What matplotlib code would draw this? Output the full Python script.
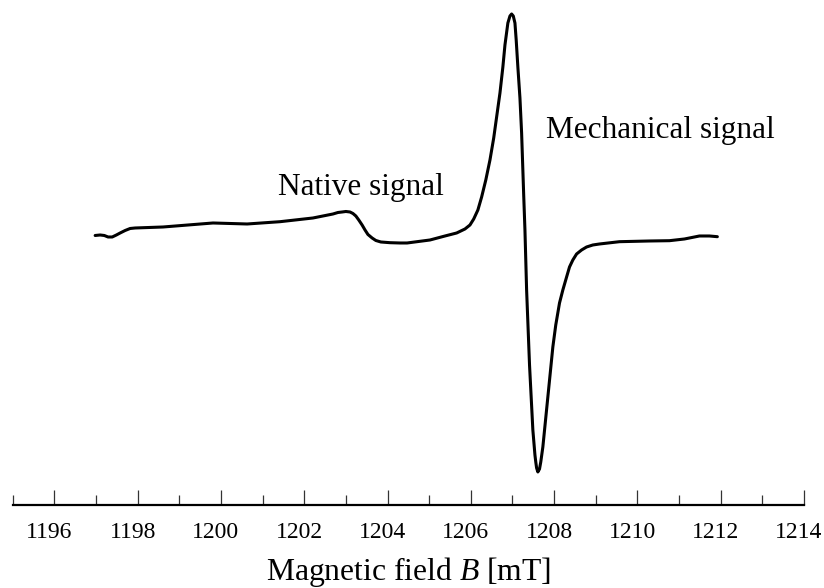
import matplotlib
matplotlib.use('Agg')
import matplotlib.pyplot as plt
import matplotlib.transforms as mtransforms
from matplotlib.ticker import MultipleLocator

# Magnetic field (mT) and signal (arbitrary units)
field = [1196.98, 1197.10, 1197.20, 1197.29, 1197.39, 1197.49, 1197.58, 1197.70,
         1197.82, 1197.94, 1198.61, 1199.81, 1200.63, 1201.42, 1202.21, 1202.69,
         1202.81, 1202.91, 1203.00, 1203.10, 1203.17, 1203.24, 1203.31, 1203.39,
         1203.46, 1203.53, 1203.63, 1203.72, 1203.84, 1204.06, 1204.30, 1204.47,
         1205.02, 1205.38, 1205.66, 1205.86, 1205.98, 1206.07, 1206.17, 1206.26,
         1206.36, 1206.46, 1206.55, 1206.62, 1206.70, 1206.77, 1206.82, 1206.89,
         1206.94, 1206.98, 1207.02, 1207.06, 1207.09, 1207.13, 1207.18, 1207.22,
         1207.27, 1207.30, 1207.34, 1207.41, 1207.49, 1207.54, 1207.56, 1207.58,
         1207.61, 1207.65, 1207.68, 1207.73, 1207.79, 1207.85, 1207.91, 1207.97,
         1208.04, 1208.13, 1208.21, 1208.30, 1208.37, 1208.45, 1208.54, 1208.66,
         1208.78, 1208.93, 1209.09, 1209.57, 1210.29, 1210.77, 1211.13, 1211.49,
         1211.73, 1211.92]
signal = [1.5, 2, 1.5, 0, 0, 2, 4, 6.5,
          8.5, 9, 10, 14, 13, 15.3, 19, 23,
          24.5, 25, 25.5, 25, 23.5, 21, 17, 12,
          7, 2.5, -1, -3.5, -5, -5.7, -6, -6,
          -3, 1, 4, 8, 12, 18, 27, 40,
          57, 77, 99, 120, 144, 170, 192, 214,
          221, 223, 221, 214, 197, 170, 139, 104,
          42, 7, -53, -128, -193, -218, -225, -231,
          -235, -232, -225, -210, -185, -160, -135, -110,
          -88, -66, -53, -40, -30, -23, -17, -13,
          -10, -8, -7, -4.7, -4, -3.7, -2, 1,
          1, 0.3]

tick_labels = ['1196', '1198', '1200', '1202', '1204', '1206', '1208', '1210', '1212', '1214']
tick_values = [int(t) for t in tick_labels]

plt.rcParams['font.family'] = ['Liberation Serif', 'DejaVu Serif']
plt.rcParams['mathtext.fontset'] = 'custom'
plt.rcParams['mathtext.rm'] = 'Liberation Serif'
plt.rcParams['mathtext.it'] = 'Liberation Serif:italic'

fig = plt.figure(figsize=(8.24, 5.88), dpi=100)
ax = fig.add_axes([0.0154, 0.1412, 0.9603, 0.8588])

ax.plot(field, signal, color='black', lw=2.2, solid_joinstyle='round', solid_capstyle='round')

ax.set_xlim(1195, 1214)
ax.set_ylim(-268, 237)

# only the bottom axis is drawn
for side in ['top', 'left', 'right']:
    ax.spines[side].set_visible(False)
ax.spines['bottom'].set_linewidth(1.6)
ax.set_yticks([])

ax.set_xticks(tick_values)
ax.set_xticklabels(tick_labels)
ax.xaxis.set_minor_locator(MultipleLocator(1))
ax.tick_params(axis='x', which='major', direction='in', length=11, width=0.9,
               labelsize=17, pad=12, color='#333333')
ax.tick_params(axis='x', which='minor', direction='in', length=7.5, width=0.9,
               color='#333333')

# labels sit a little left of their ticks in the original
shift = mtransforms.ScaledTranslation(-5 / 100, 0, fig.dpi_scale_trans)
for lab in ax.get_xticklabels():
    lab.set_transform(lab.get_transform() + shift)

ax.set_xlabel('Magnetic field $\\it{B}$ [mT]', fontsize=22.8, labelpad=9)

ax.text(1201.37, 42, 'Native signal', fontsize=22.5, va='baseline', ha='left')
ax.text(1207.81, 99, 'Mechanical signal', fontsize=22.5, va='baseline', ha='left')

fig.savefig('out.png', dpi=100)
